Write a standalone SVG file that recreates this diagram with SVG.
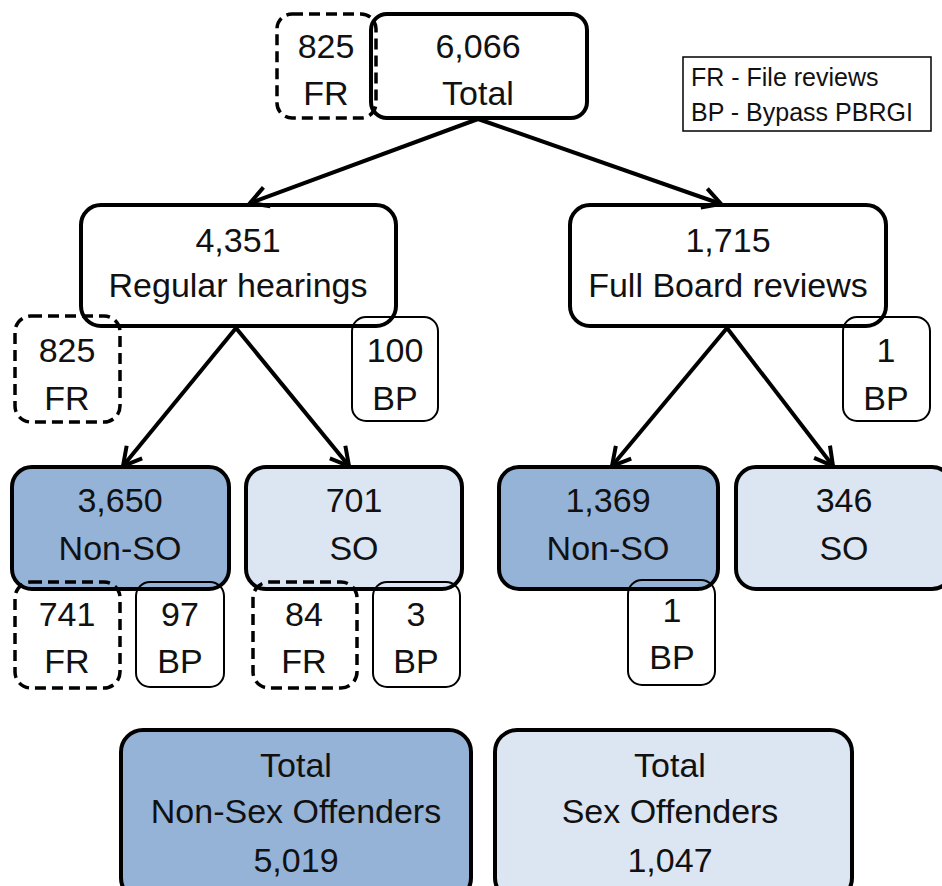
<svg xmlns="http://www.w3.org/2000/svg" width="942" height="886" viewBox="0 0 942 886">
<defs>
<style>
text{font-family:"Liberation Sans",Arial,sans-serif;font-size:34px;fill:#111;text-anchor:middle}
.main{stroke:#000;stroke-width:4}
.white{fill:#fff}
.dark{fill:#95B3D7}
.light{fill:#DCE6F2}
.fr{fill:none;stroke:#000;stroke-width:3.5;stroke-dasharray:11 6}
.bp{fill:none;stroke:#000;stroke-width:2}
.legend{fill:#fff;stroke:#000;stroke-width:1.5}
.lt{font-size:25px;text-anchor:start}
.conn line{stroke:#000;stroke-width:4;marker-end:url(#arr)}
</style>
<marker id="arr" markerUnits="userSpaceOnUse" markerWidth="26" markerHeight="26" viewBox="0 0 26 26" refX="22" refY="13" orient="auto">
<path d="M4,3 L22,13 L4,23" fill="none" stroke="#000" stroke-width="4" stroke-linejoin="miter"/>
</marker>
</defs>
<rect width="942" height="886" fill="#fff"/>

<g id="total">
<rect class="main white" x="371" y="14" width="216" height="104" rx="16"/>
<text x="478" y="58">6,066</text>
<text x="478" y="105">Total</text>
</g>
<g id="total-fr">
<rect class="fr" x="277" y="14" width="99" height="104" rx="15"/>
<text x="326" y="58">825</text>
<text x="326" y="105">FR</text>
</g>

<g id="legend">
<rect class="legend" x="683" y="57" width="248" height="74"/>
<text class="lt" x="691" y="86">FR - File reviews</text>
<text class="lt" x="691" y="121">BP - Bypass PBRGI</text>
</g>

<g id="regular">
<rect class="main white" x="81" y="205" width="315" height="121" rx="20"/>
<text x="238" y="252">4,351</text>
<text x="238" y="297">Regular hearings</text>
</g>
<g id="fullboard">
<rect class="main white" x="570" y="205" width="316" height="121" rx="20"/>
<text x="728" y="252">1,715</text>
<text x="728" y="297">Full Board reviews</text>
</g>

<g id="nonso-rh">
<rect class="main dark" x="12" y="467" width="217" height="122" rx="20"/>
<text x="120" y="512">3,650</text>
<text x="120" y="560">Non-SO</text>
</g>
<g id="so-rh">
<rect class="main light" x="246" y="467" width="216" height="122" rx="20"/>
<text x="354" y="512">701</text>
<text x="354" y="560">SO</text>
</g>
<g id="nonso-fb">
<rect class="main dark" x="499" y="467" width="219" height="122" rx="20"/>
<text x="608" y="512">1,369</text>
<text x="608" y="560">Non-SO</text>
</g>
<g id="so-fb">
<rect class="main light" x="736" y="467" width="216" height="122" rx="20"/>
<text x="844" y="512">346</text>
<text x="844" y="560">SO</text>
</g>

<g id="rh-fr">
<rect class="fr" x="15" y="316" width="105" height="106" rx="16"/>
<text x="67" y="362">825</text>
<text x="67" y="410">FR</text>
</g>
<g id="rh-bp">
<rect class="bp" x="352" y="317" width="86" height="104" rx="14"/>
<text x="395" y="362">100</text>
<text x="395" y="410">BP</text>
</g>
<g id="fb-bp">
<rect class="bp" x="843" y="317" width="87" height="104" rx="14"/>
<text x="886" y="362">1</text>
<text x="886" y="410">BP</text>
</g>

<g id="nonso-rh-fr">
<rect class="fr" x="15" y="582" width="105" height="106" rx="16"/>
<text x="67" y="626">741</text>
<text x="67" y="673">FR</text>
</g>
<g id="nonso-rh-bp">
<rect class="bp" x="136" y="582" width="88" height="105" rx="14"/>
<text x="180" y="626">97</text>
<text x="180" y="673">BP</text>
</g>
<g id="so-rh-fr">
<rect class="fr" x="253" y="582" width="104" height="106" rx="16"/>
<text x="304" y="626">84</text>
<text x="304" y="673">FR</text>
</g>
<g id="so-rh-bp">
<rect class="bp" x="373" y="582" width="87" height="105" rx="14"/>
<text x="416" y="626">3</text>
<text x="416" y="673">BP</text>
</g>
<g id="nonso-fb-bp">
<rect class="bp" x="628" y="580" width="87" height="105" rx="14"/>
<text x="672" y="622">1</text>
<text x="672" y="669">BP</text>
</g>

<g id="total-nonsex">
<rect class="main dark" x="121" y="730" width="350" height="170" rx="22"/>
<text x="296" y="777">Total</text>
<text x="296" y="823">Non-Sex Offenders</text>
<text x="296" y="872">5,019</text>
</g>
<g id="total-sex">
<rect class="main light" x="495" y="730" width="357" height="170" rx="22"/>
<text x="670" y="777">Total</text>
<text x="670" y="823">Sex Offenders</text>
<text x="670" y="872">1,047</text>
</g>

<g id="connectors" class="conn">
<line x1="478" y1="119" x2="250" y2="203"/>
<line x1="478" y1="119" x2="721" y2="204"/>
<line x1="236" y1="328" x2="123" y2="466"/>
<line x1="236" y1="328" x2="349" y2="466"/>
<line x1="727" y1="328" x2="612" y2="466"/>
<line x1="727" y1="328" x2="833" y2="466"/>
</g>
</svg>
